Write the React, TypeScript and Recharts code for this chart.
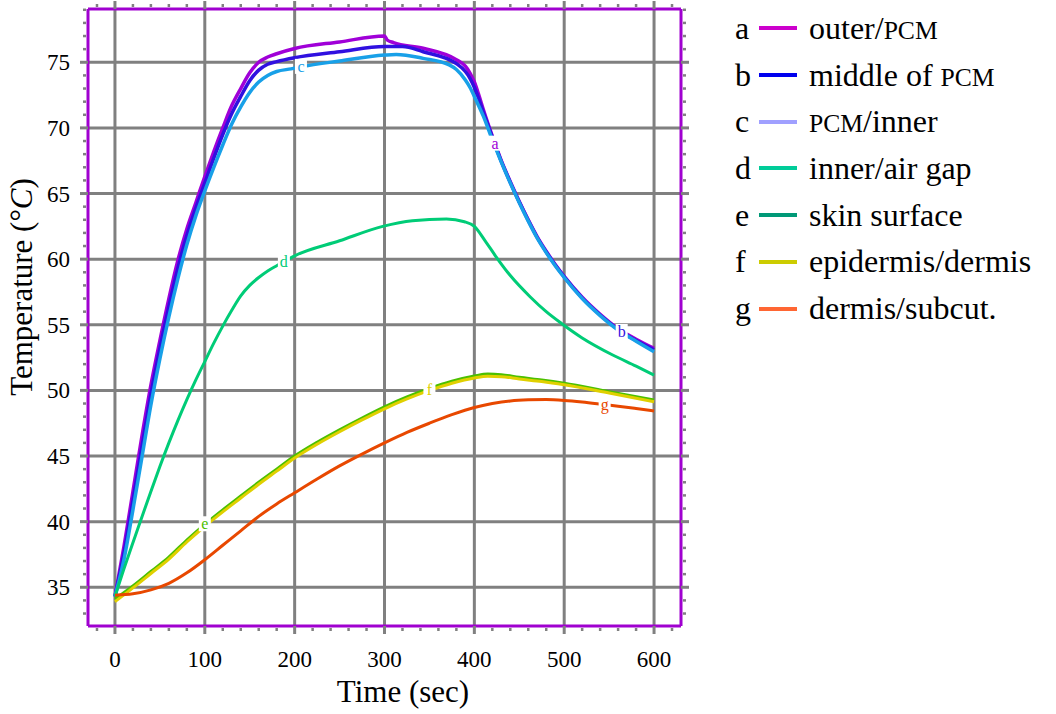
import React from "react";
import { LineChart, Line, XAxis, YAxis, CartesianGrid, Label } from "recharts";

const SERIF = '"Liberation Serif", "Times New Roman", serif';
const GRID = "#808080";
const FRAME = "#a000d0";

const xMajor = [0, 100, 200, 300, 400, 500, 600];
const yMajor = [35, 40, 45, 50, 55, 60, 65, 70, 75];
// minor tick marks: every 20 s and every 1 degree
const xTicks = Array.from({ length: 33 }, (_, i) => -20 + i * 20);
const yTicks = Array.from({ length: 47 }, (_, i) => 33 + i);

// a: outer/PCM
const tA = [0, 10, 20, 30, 40, 50, 60, 70, 80, 90, 100, 110, 120, 130, 140, 150, 160, 170, 180, 200, 250, 300, 303, 310, 343, 380, 390, 395, 400, 405, 410, 423, 430, 440, 450, 460, 470, 480, 490, 500, 520, 540, 560, 580, 600];
const vA = [34.3, 38.1, 42.3, 46.5, 50.4, 53.8, 57.0, 59.9, 62.3, 64.3, 66.3, 68.2, 70.0, 71.7, 73.0, 74.2, 75.0, 75.4, 75.65, 76.05, 76.55, 77.0, 76.7, 76.5, 76.07, 75.2, 74.7, 74.2, 73.5, 72.5, 71.4, 68.8, 67.5, 65.9, 64.4, 63.0, 61.7, 60.6, 59.6, 58.7, 57.1, 55.8, 54.7, 53.9, 53.2];
// b: middle of PCM
const tB = [0, 10, 20, 30, 40, 50, 60, 70, 80, 90, 100, 110, 120, 130, 140, 150, 160, 170, 180, 200, 250, 300, 320, 343, 380, 390, 395, 400, 405, 410, 420, 430, 440, 450, 460, 470, 480, 490, 500, 520, 540, 564, 580, 600];
const vB = [34.3, 37.6, 41.6, 45.7, 49.7, 53.2, 56.4, 59.3, 61.8, 63.9, 65.8, 67.7, 69.5, 71.1, 72.4, 73.6, 74.4, 74.85, 75.05, 75.35, 75.8, 76.2, 76.2, 75.8, 74.9, 74.3, 73.8, 73.1, 72.2, 71.2, 69.3, 67.45, 65.85, 64.35, 62.95, 61.65, 60.55, 59.55, 58.65, 57.05, 55.75, 54.45, 53.8, 53.1];
// c: PCM/inner
const tC = [0, 10, 20, 30, 40, 50, 60, 70, 80, 90, 100, 110, 120, 130, 140, 150, 160, 170, 180, 196, 207, 250, 300, 313, 343, 372, 380, 390, 395, 402, 410, 420, 430, 440, 450, 460, 470, 480, 490, 500, 520, 540, 560, 580, 600];
const vC = [34.3, 37.1, 40.9, 44.9, 48.9, 52.4, 55.6, 58.5, 61.1, 63.3, 65.2, 67.0, 68.7, 70.3, 71.6, 72.7, 73.5, 74.0, 74.3, 74.5, 74.65, 75.1, 75.55, 75.6, 75.3, 74.8, 74.45, 73.65, 73.1, 72.1, 70.9, 69.1, 67.4, 65.8, 64.3, 62.9, 61.6, 60.5, 59.5, 58.6, 57.0, 55.7, 54.6, 53.75, 52.95];
// d: inner/air gap
const tD = [0, 10, 20, 30, 40, 50, 60, 70, 80, 90, 100, 110, 120, 130, 140, 150, 160, 170, 180, 188, 200, 250, 298, 331, 369, 389, 400, 412, 424, 440, 462, 480, 497, 520, 554, 580, 600];
const vD = [34.3, 36.4, 38.4, 40.35, 42.3, 44.2, 46.0, 47.7, 49.3, 50.8, 52.2, 53.6, 54.9, 56.1, 57.2, 58.0, 58.6, 59.1, 59.5, 59.8, 60.25, 61.4, 62.5, 62.93, 63.06, 62.85, 62.5, 61.4, 60.2, 58.75, 57.14, 56.0, 55.1, 54.0, 52.7, 51.85, 51.17];
// e: skin surface
const tE = [0, 20, 40, 60, 80, 100, 120, 140, 160, 180, 200, 225, 250, 275, 300, 325, 350, 375, 400, 415, 430, 450, 475, 500, 550, 600];
const vE = [34.1, 35.1, 36.2, 37.3, 38.6, 39.8, 40.9, 41.95, 43.0, 44.0, 45.0, 46.05, 47.0, 47.9, 48.75, 49.5, 50.15, 50.7, 51.1, 51.25, 51.2, 51.0, 50.8, 50.55, 49.9, 49.27];
// f: epidermis/dermis
const tF = [0, 20, 40, 60, 80, 100, 120, 140, 160, 180, 200, 225, 250, 275, 300, 325, 350, 375, 400, 415, 430, 450, 475, 500, 550, 600];
const vF = [33.9, 34.95, 36.05, 37.15, 38.45, 39.65, 40.75, 41.8, 42.85, 43.85, 44.85, 45.9, 46.85, 47.75, 48.6, 49.35, 50.0, 50.55, 50.95, 51.08, 51.05, 50.87, 50.68, 50.43, 49.8, 49.14];
// g: dermis/subcut.
const tG = [0, 20, 40, 60, 80, 100, 120, 140, 160, 180, 200, 225, 250, 275, 300, 325, 350, 375, 400, 420, 440, 460, 480, 500, 520, 545, 560, 580, 600];
const vG = [34.4, 34.5, 34.8, 35.3, 36.1, 37.1, 38.2, 39.3, 40.4, 41.35, 42.2, 43.25, 44.25, 45.15, 46.0, 46.8, 47.5, 48.15, 48.7, 49.0, 49.2, 49.28, 49.3, 49.24, 49.12, 48.92, 48.8, 48.62, 48.43];

const letters = ["a", "b", "c", "d", "e", "f", "g"];
const names = ["outer/PCM", "middle of PCM", "PCM/inner", "inner/air gap", "skin surface", "epidermis/dermis", "dermis/subcut."];
const keyColors = ["#cc00cc", "#0000ee", "#a0a0ff", "#00cc99", "#009977", "#cccc00", "#ff6633"];
const lineColors = ["#a000d8", "#3010e0", "#18a0e8", "#00cc77", "#4cc000", "#e0d000", "#e84800"];
const labelTimes = [423, 564, 207, 188, 100, 350, 545];
const times = [tA, tB, tC, tD, tE, tF, tG];
const temps = [vA, vB, vC, vD, vE, vF, vG];

const series = letters.map((id, i) => ({
  id,
  color: lineColors[i],
  labelIdx: times[i].indexOf(labelTimes[i]),
  data: times[i].map((t, k) => ({ t, T: temps[i][k] })),
}));

function xTick(p: any, side: "bottom" | "top") {
  const v = p.payload.value;
  const d = side === "bottom" ? 1 : -1;
  if (xMajor.includes(v)) {
    return (
      <g>
        <line x1={p.x} x2={p.x} y1={p.y} y2={p.y + d * 8} stroke={GRID} strokeWidth={3} />
        {side === "bottom" && (
          <text x={p.x} y={p.y + 41} textAnchor="middle" fontFamily={SERIF} fontSize={23} fill="#000">{v}</text>
        )}
      </g>
    );
  }
  return <line x1={p.x} x2={p.x} y1={p.y + d * 2} y2={p.y + d * 5} stroke={GRID} strokeWidth={2.5} />;
}

function yTick(p: any, side: "left" | "right") {
  const v = p.payload.value;
  const d = side === "left" ? -1 : 1;
  if (yMajor.includes(v)) {
    return (
      <g>
        <line x1={p.x} x2={p.x + d * 8} y1={p.y} y2={p.y} stroke={GRID} strokeWidth={3} />
        {side === "left" && (
          <text x={p.x - 18} y={p.y + 8} textAnchor="end" fontFamily={SERIF} fontSize={23} fill="#000">{v}</text>
        )}
      </g>
    );
  }
  return <line x1={p.x + d * 2} x2={p.x + d * 5} y1={p.y} y2={p.y} stroke={GRID} strokeWidth={2.5} />;
}

function curveLabel(p: any, s: typeof series[number]) {
  if (p.index !== s.labelIdx) return <g />;
  return (
    <g>
      <rect x={p.x - 6} y={p.y - 8} width={12} height={15} fill="#fff" />
      <text x={p.x} y={p.y + 5} textAnchor="middle" fontFamily={SERIF} fontSize={16} fill={s.color}>{s.id}</text>
    </g>
  );
}

function withSmallCaps(name: string) {
  return name.split(/(PCM)/).map((part, i) =>
    part === "PCM" ? <span key={i} style={{ fontSize: "0.8em" }}>PCM</span> : <span key={i}>{part}</span>
  );
}

export default function App() {
  return (
    <div style={{ position: "absolute", left: 0, top: 0, width: 1056, height: 714, background: "#fff" }}>
      <LineChart width={1056} height={714} margin={{ top: 8, right: 374, bottom: 87, left: 87 }}>
        <CartesianGrid stroke={GRID} strokeWidth={3} verticalValues={xMajor} horizontalValues={yMajor} />
        <XAxis
          dataKey="t" type="number" domain={[-30, 630]} ticks={xTicks} interval={0} allowDataOverflow
          height={1} tickSize={0} tickMargin={0} tickLine={false}
          axisLine={{ stroke: FRAME, strokeWidth: 3 }}
          tick={(p: any) => xTick(p, "bottom")}
          label={<Label content={() => (
            <text x={403} y={702} textAnchor="middle" fontFamily={SERIF} fontSize={31} fill="#000">Time (sec)</text>
          )} />}
        />
        <XAxis
          xAxisId="top" orientation="top" dataKey="t" type="number" domain={[-30, 630]} ticks={xTicks} interval={0} allowDataOverflow
          height={1} tickSize={0} tickMargin={0} tickLine={false}
          axisLine={{ stroke: FRAME, strokeWidth: 3 }}
          tick={(p: any) => xTick(p, "top")}
        />
        <YAxis
          type="number" domain={[32.05, 79.06]} ticks={yTicks} interval={0} allowDataOverflow
          width={1} tickSize={0} tickMargin={0} tickLine={false}
          axisLine={{ stroke: FRAME, strokeWidth: 3 }}
          tick={(p: any) => yTick(p, "left")}
          label={<Label content={() => (
            <text x={32} y={287} transform="rotate(-90 32 287)" textAnchor="middle" fontFamily={SERIF} fontSize={31} fill="#000">
              Temperature (°<tspan fontStyle="italic">C</tspan>)
            </text>
          )} />}
        />
        <YAxis
          yAxisId="right" orientation="right" type="number" domain={[32.05, 79.06]} ticks={yTicks} interval={0} allowDataOverflow
          width={1} tickSize={0} tickMargin={0} tickLine={false}
          axisLine={{ stroke: FRAME, strokeWidth: 3 }}
          tick={(p: any) => yTick(p, "right")}
        />
        {series.map((s) => (
          <Line
            key={s.id} data={s.data} dataKey="T" type="monotone"
            stroke={s.color} strokeWidth={s.id < "d" ? 3.5 : 3}
            dot={false} activeDot={false} isAnimationActive={false}
            label={(p: any) => curveLabel(p, s)}
          />
        ))}
      </LineChart>
      {letters.map((id, i) => (
        <div
          key={id}
          style={{
            position: "absolute", left: 735, top: 5 + i * 46.7, height: 46.7,
            display: "flex", alignItems: "center", fontFamily: SERIF, fontSize: 32, color: "#000", whiteSpace: "nowrap",
          }}
        >
          <span style={{ width: 24 }}>{id}</span>
          <span style={{ width: 38, height: 4, background: keyColors[i], marginRight: 12 }} />
          <span>{withSmallCaps(names[i])}</span>
        </div>
      ))}
    </div>
  );
}
